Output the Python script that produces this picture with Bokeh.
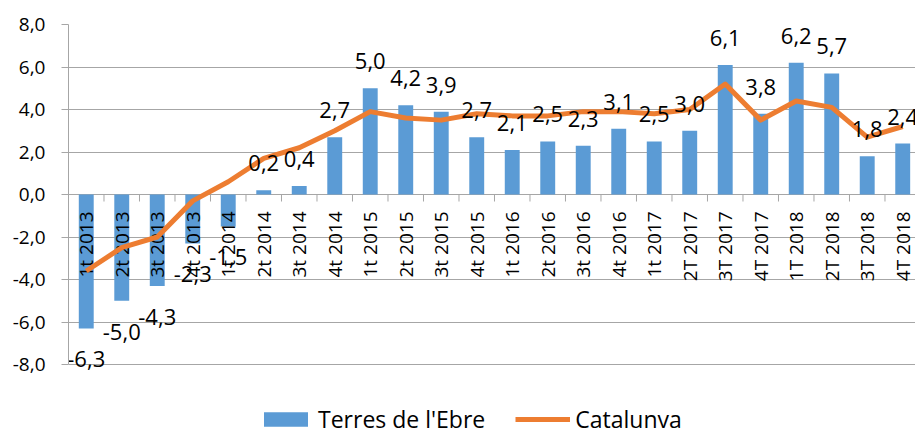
import math
from bokeh.plotting import figure
from bokeh.models import (ColumnDataSource, FixedTicker, Range1d, Legend, LegendItem)
from bokeh.core.properties import value
from bokeh.embed import file_html
from bokeh.resources import INLINE

# ---- data ----
categories = ["1t 2013", "2t 2013", "3t 2013", "4t 2013",
              "1t 2014", "2t 2014", "3t 2014", "4t 2014",
              "1t 2015", "2t 2015", "3t 2015", "4t 2015",
              "1t 2016", "2t 2016", "3t 2016", "4t 2016",
              "1t 2017", "2T 2017", "3T 2017", "4T 2017",
              "1T 2018", "2T 2018", "3T 2018", "4T 2018"]
terres_ebre = [-6.3, -5.0, -4.3, -2.3, -1.5, 0.2, 0.4, 2.7,
               5.0, 4.2, 3.9, 2.7, 2.1, 2.5, 2.3, 3.1,
               2.5, 3.0, 6.1, 3.8, 6.2, 5.7, 1.8, 2.4]
catalunya = [-3.6, -2.5, -2.0, -0.3, 0.6, 1.7, 2.2, 3.0,
             3.9, 3.6, 3.5, 3.8, 3.7, 3.7, 3.9, 3.9,
             3.8, 4.0, 5.2, 3.5, 4.4, 4.1, 2.7, 3.2]
y_ticks = [-8, -6, -4, -2, 0, 2, 4, 6, 8]

FONT = "Open Sans"
GRID = "#a6a6a6"

n = len(categories)
xs = [i + 0.5 for i in range(n)]
src = ColumnDataSource(dict(
    x=xs,
    zero=[0] * n,
    cat=categories,
    bar=terres_ebre,
    cata=catalunya,
    lbl=[f"{v:.1f}".replace(".", ",") for v in terres_ebre],
    yoff=[-27 if v >= 0 else 31 for v in terres_ebre],
))
bounds = ColumnDataSource(dict(b=list(range(1, n)), z=[0] * (n - 1)))

# frame runs to the bottom of the page; the space below -8 holds the legend
p = figure(width=915, height=428, output_backend="svg", toolbar_location=None,
           x_range=Range1d(0, 23.86), y_range=Range1d(-8 - 64 / 21.25, 8),
           min_border_left=68, min_border_right=0, min_border_top=24,
           min_border_bottom=0)
p.outline_line_color = None
p.background_fill_color = "white"
p.border_fill_color = "white"

# y axis
yax = p.yaxis[0]
yax.bounds = (-8, 8)
yax.ticker = FixedTicker(ticks=y_ticks)
yax.major_label_overrides = {t: f"{t:.1f}".replace(".", ",") for t in y_ticks}
yax.major_label_text_font = FONT
yax.major_label_text_font_size = "19px"
yax.major_label_text_color = "#000000"
yax.major_tick_out = 7
yax.major_tick_in = 0
yax.minor_tick_line_color = None
yax.axis_line_color = GRID
yax.major_tick_line_color = GRID
yax.major_label_standoff = 16

p.ygrid.ticker = FixedTicker(ticks=y_ticks)
p.ygrid.grid_line_color = GRID
p.xgrid.grid_line_color = None
p.xaxis.visible = False

bars = p.vbar(x="x", top="bar", bottom=0, width=0.42, source=src,
              fill_color="#5b9bd5", line_color=None)

# category axis at y = 0: boundary ticks and rotated labels
p.segment(x0="b", y0="z", x1="b", y1=-0.33, source=bounds,
          line_color=GRID, line_width=1)
p.text(x="x", y="zero", text="cat", source=src, angle=math.pi / 2,
       y_offset=17, text_align="right", text_baseline="middle",
       text_font=value(FONT), text_font_size="19px", text_color="#000000")

line = p.line(x="x", y="cata", source=src, line_color="#ed7d31",
              line_width=5, line_join="round")
p.text(x="x", y="bar", text="lbl", source=src, y_offset="yoff",
       text_font=value(FONT), text_font_size="22px", text_color="#000000",
       text_align="center", text_baseline="middle")

legend = Legend(items=[LegendItem(label="Terres de l'Ebre", renderers=[bars]),
                       LegendItem(label="Catalunya", renderers=[line])],
                orientation="horizontal", location=(190, -7),
                glyph_width=55, glyph_height=18, label_standoff=5, spacing=30,
                padding=0, margin=0, border_line_color=None,
                background_fill_alpha=0,
                label_text_font=FONT, label_text_font_size="23px",
                label_text_color="#000000")
p.add_layout(legend, "center")

open("out.html", "w").write(file_html(p, INLINE))
